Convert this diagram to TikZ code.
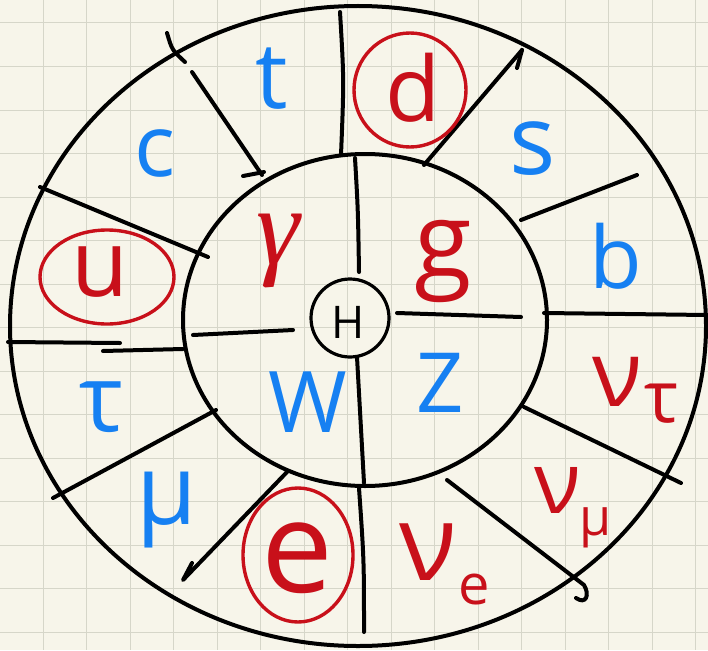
\documentclass[tikz,border=0pt]{standalone}
\usepackage{fontspec}
\setmainfont{Open Sans}
\newfontfamily\gamfont{Liberation Serif}
\newcommand\fsz[1]{\fontsize{#1}{#1}\selectfont}
\definecolor{paper}{HTML}{F7F5EA}
\definecolor{gridc}{HTML}{D6D6C9}
\definecolor{qblue}{HTML}{1680F2}
\definecolor{qred}{HTML}{C8101A}
\tikzset{
  ink/.style={line width=4pt, line cap=round, line join=round, black},
  lab/.style={inner sep=0pt, anchor=center},
  bl/.style={lab, text=qblue},
  rd/.style={lab, text=qred},
  ring/.style={draw=qred, line width=3.4pt},
}
\begin{document}
\begin{tikzpicture}[x=1pt,y=-1pt]
\useasboundingbox (0,0) rectangle (708,650);
\fill[paper] (0,0) rectangle (708,650);
\begin{scope}
\clip (0,0) rectangle (708,650);
\foreach \i in {0,...,16} {
  \draw[gridc, line width=1pt] ({43+43.5*\i},0) -- ({43+43.5*\i},650);
}
\foreach \i in {0,...,15} {
  \draw[gridc, line width=1pt] (0,{23+43.5*\i}) -- (708,{23+43.5*\i});
}
% outer and inner rings
\draw[ink] (358,326) ellipse [x radius=348, y radius=320];
\draw[ink] (365,320) ellipse [x radius=182, y radius=166];
\end{scope}
% Higgs
\node[draw, circle, inner sep=0pt, line width=3.2pt, minimum size=78pt] (hc) at (350,318) {};
\node[lab] (H) at (348,322) {\fsz{45}H};
% inner spokes
\coordinate (iu1) at (355,158); \coordinate (iu2) at (359,272);
\draw[ink] (iu1) .. controls (358,210) .. (iu2);
\coordinate (ir1) at (397,313); \coordinate (ir2) at (521,317);
\draw[ink] (ir1) -- (ir2);
\coordinate (il1) at (193,335); \coordinate (il2) at (293,330);
\draw[ink] (il1) -- (il2);
\coordinate (id1) at (357,357); \coordinate (id2) at (364,483);
\draw[ink] (id1) .. controls (360,420) .. (id2);
% outer spokes
\coordinate (a1) at (340,12); \coordinate (a2) at (341,155);
\draw[ink] (a1) .. controls (344,80) .. (a2);
\coordinate (b1) at (424,165); \coordinate (b2) at (522,50);
\draw[ink] (b1) -- (b2);
\draw[ink] (b2) -- (517,68);
\coordinate (c1) at (521,220); \coordinate (c2) at (637,175);
\draw[ink] (c1) -- (c2);
\coordinate (d1) at (544,313); \coordinate (d2) at (707,315);
\draw[ink] (d1) -- (d2);
\coordinate (e1) at (524,407); \coordinate (e2) at (681,483);
\draw[ink] (e1) -- (e2);
\coordinate (f1) at (447,480); \coordinate (f2) at (584,585);
\draw[ink] (f1) -- (f2) .. controls (590,595) and (586,605) .. (576,598);
\coordinate (g1) at (359,488); \coordinate (g2) at (364,632);
\draw[ink] (g1) .. controls (364,560) .. (g2);
\coordinate (h1) at (287,472); \coordinate (h2) at (183,580);
\draw[ink] (h1) -- (h2) -- (192,563);
\coordinate (k1) at (53,498); \coordinate (k2) at (216,410);
\draw[ink] (k1) -- (k2);
\coordinate (l1) at (8,342); \coordinate (l2) at (120,343);
\draw[ink] (l1) -- (l2);
\coordinate (l3) at (103,351); \coordinate (l4) at (183,349);
\draw[ink] (l3) -- (l4);
\coordinate (m1) at (40,187); \coordinate (m2) at (208,257);
\draw[ink] (m1) -- (m2);
\coordinate (n1) at (192,72); \coordinate (n2) at (262,175);
\draw[ink] (n1) -- (n2);
\coordinate (n3) at (167,33); \coordinate (n4) at (185,62);
\draw[ink] (n3) .. controls (172,50) .. (n4);
\draw[ink] (243,176) -- (264,172);
% outer ring labels
\node[bl] (t) at (272,79) {\fsz{92}t};
\node[rd] (d) at (413,88) {\fsz{90}d};
\draw[ring] (410,90) ellipse [x radius=56, y radius=57];
\node[bl] (s) at (533,149) {\fsz{97}s};
\node[bl] (b) at (616,256) {\fsz{86}b};
\node[rd] (nut) at (617,382) {\fsz{92}ν};
\node[rd] (nuts) at (662,404) {\fsz{72}τ};
\node[rd] (num) at (558,490) {\fsz{86}ν};
\node[rd] (nums) at (596,528) {\fsz{52}μ};
\node[rd] (nue) at (428,552) {\fsz{106}ν};
\node[rd] (nues) at (474,590) {\fsz{56}e};
\node[rd] (e) at (297,558) {\fsz{128}e};
\draw[ring] (298,555) ellipse [x radius=55, y radius=67];
\node[bl] (mu) at (167,510) {\fsz{98}μ};
\node[bl] (tau) at (101,407) {\fsz{93}τ};
\node[rd] (u) at (100,272) {\fsz{93}u};
\draw[ring] (107,277) ellipse [x radius=67, y radius=47];
\node[bl] (c) at (155,153) {\fsz{86}c};
% inner ring labels
\node[rd] (gam) at (278,251) {\gamfont\itshape\fsz{110}γ};
\node[rd] (g) at (443,262) {\fsz{105}g};
\node[bl] (Z) at (440,383) {\fsz{83}Z};
\node[bl] (W) at (308,402) {\fsz{85}W};
\end{tikzpicture}
\end{document}
